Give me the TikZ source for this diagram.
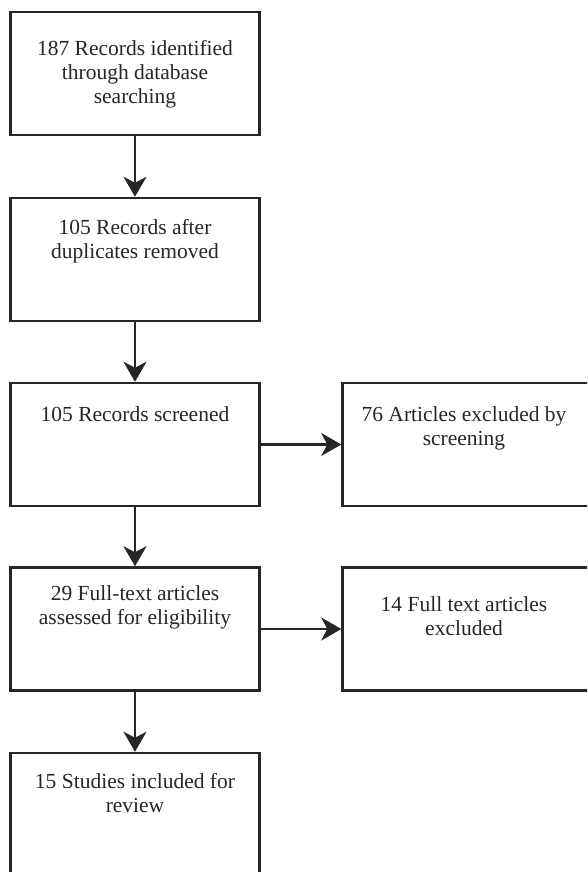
\documentclass[tikz,border=0pt]{standalone}
\usepackage{fontspec}
\setmainfont{Liberation Serif}
\usetikzlibrary{arrows.meta}

\begin{document}
\begin{tikzpicture}[x=1pt,y=-1pt,
	box/.style={draw=black!85,line width=2.5pt,rectangle,
		minimum width=249pt,minimum height=123pt},
	txt/.style={anchor=north,align=center,inner sep=0pt,text=black!85,
		font=\fontsize{21.5}{24}\selectfont},
	arr/.style={-{Stealth[length=20pt,width=23pt,inset=6pt]},
		draw=black!85,line width=2.4pt}]

\useasboundingbox (0,0) rectangle (587,872);
\clip (0,0) rectangle (587,872);

% left column
\node[box] (rec) at (135,73.5) {};
\node[box] (dup) at (135,259.5) {};
\node[box] (scr) at (135,444.5) {};
\node[box] (elig) at (135,629) {};
\node[box] (incl) at (135,814.5) {};

% right column
\node[box] (exscr) at (467,444.5) {};
\node[box] (exfull) at (467,629) {};

\node[txt] (trec) at (135,40) {187 Records identified\\through database\\searching};
\node[txt] (tdup) at (135,219) {105 Records after\\duplicates removed};
\node[txt] (tscr) at (135,406) {105 Records screened};
\node[txt] (telig) at (135,585) {29 Full-text articles\\assessed for eligibility};
\node[txt] (tincl) at (135,773) {15 Studies included for\\review};
\node[txt] (texscr) at (464,406) {76 Articles excluded by\\screening};
\node[txt] (texfull) at (464,596) {14 Full text articles\\excluded};

\draw[arr] (rec) -- (dup);
\draw[arr] (dup) -- (scr);
\draw[arr] (scr) -- (elig);
\draw[arr] (elig) -- (incl);
\draw[arr] (scr) -- (exscr);
\draw[arr] (elig) -- (exfull);
\end{tikzpicture}
\end{document}
